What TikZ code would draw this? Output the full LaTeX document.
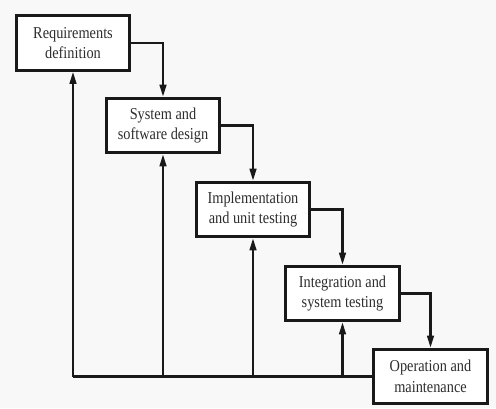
\documentclass[tikz,border=0pt]{standalone}
\usepackage{fontspec}
\setmainfont{Liberation Serif}[FakeStretch=0.86]
\usetikzlibrary{arrows.meta}
\definecolor{bg}{RGB}{248,248,248}
\definecolor{ink}{RGB}{25,25,25}
\definecolor{txt}{RGB}{45,45,45}
\tikzset{
  phase/.style={draw=ink, line width=2.2pt, fill=white, minimum width=85pt, minimum height=41pt,
    align=center, inner sep=2pt, font=\fontsize{12.5}{15.5}\selectfont, text=txt},
  flow/.style={draw=ink, line width=1.6pt, -{Triangle[length=9pt,width=5pt]}},
  back/.style={draw=ink, line width=1.6pt, -{Triangle[length=9pt,width=5pt]}},
  plain/.style={draw=ink, line width=1.6pt},
}
\begin{document}
\begin{tikzpicture}[x=0.75pt,y=-0.75pt]
\fill[bg] (0,0) rectangle (496,408);
\useasboundingbox (0,0) rectangle (496,408);
\node[phase] (req) at (73,43) {Requirements\\definition};
\node[phase] (des) at (163,125.5) {System and\\software design};
\node[phase] (imp) at (253,209.5) {Implementation\\and unit testing};
\node[phase] (int) at (342.5,293.5) {Integration and\\system testing};
\node[phase] (ops) at (430.5,376.5) {Operation and\\maintenance};
\draw[flow] (req.east) -| (des.north);
\draw[flow] (des.east) -| (imp.north);
\draw[flow] (imp.east) -| (int.north);
\draw[flow] (int.east) -| (ops.north);
\coordinate (b1) at (req.south |- ops.west);
\coordinate (b2) at (des.south |- ops.west);
\coordinate (b3) at (imp.south |- ops.west);
\coordinate (b4) at (int.south |- ops.west);
\draw[plain] (ops.west) -- (b1);
\draw[back] (b1) -- (req.south);
\draw[back] (b2) -- (des.south);
\draw[back] (b3) -- (imp.south);
\draw[back] (b4) -- (int.south);
\end{tikzpicture}
\end{document}
